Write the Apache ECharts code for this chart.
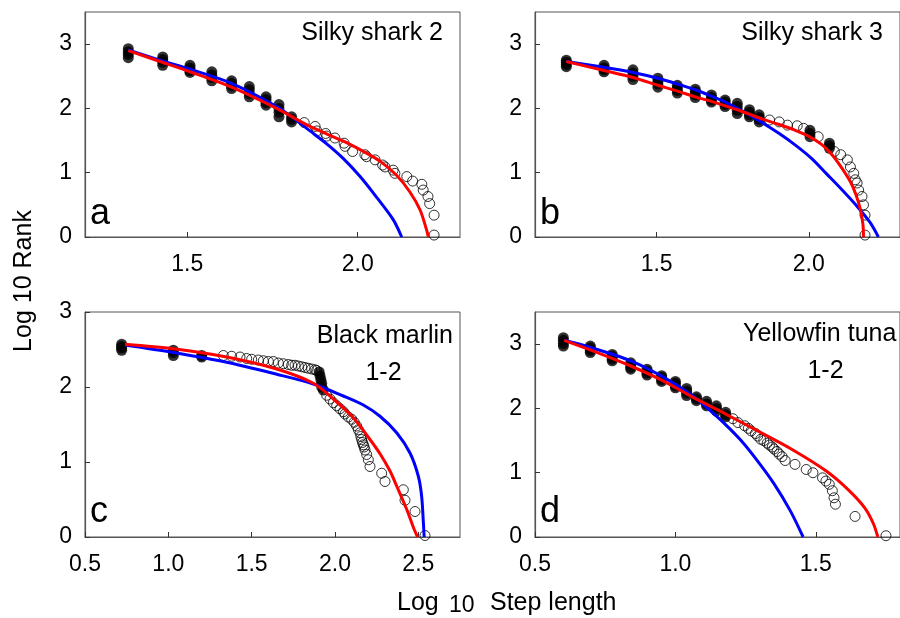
<!DOCTYPE html>
<html>
<head>
<meta charset="utf-8">
<script src="https://cdn.jsdelivr.net/npm/echarts@6/dist/echarts.min.js"></script>
<style>html,body{margin:0;padding:0;background:#fff;}#c{width:900px;height:618px;}</style>
</head>
<body>
<div id="c"></div>
<script>
// ---------- DATA ----------
// Panel a: Silky shark 2
var aDense = [
  [1.327,2.93],[1.327,2.88],[1.327,2.84],[1.327,2.79],
  [1.428,2.80],[1.428,2.76],[1.428,2.72],[1.428,2.67],
  [1.508,2.67],[1.508,2.63],[1.508,2.59],[1.508,2.56],
  [1.572,2.57],[1.572,2.52],[1.572,2.48],[1.572,2.43],
  [1.630,2.43],[1.630,2.39],[1.630,2.35],[1.630,2.31],
  [1.682,2.34],[1.682,2.29],[1.682,2.23],[1.682,2.18],
  [1.731,2.18],[1.731,2.14],[1.731,2.09],[1.731,2.05],
  [1.769,2.06],[1.769,2.00],[1.769,1.94],[1.769,1.87],
  [1.806,1.87],[1.806,1.83],[1.806,1.79]
];
var aOpen = [
  [1.843,1.78],[1.875,1.72],[1.880,1.65],[1.906,1.61],[1.909,1.57],[1.933,1.54],
  [1.960,1.46],[1.963,1.41],[1.985,1.33],[2.021,1.28],[2.026,1.25],[2.051,1.20],
  [2.073,1.12],[2.080,1.09],[2.104,1.04],[2.109,0.99],[2.144,0.94],[2.161,0.87],
  [2.188,0.82],[2.192,0.73],[2.206,0.63],[2.211,0.52],[2.224,0.34],[2.224,0.03]
];
var aBlue = [
  [1.327,2.91],[1.420,2.75],[1.508,2.61],[1.630,2.39],[1.762,2.03],[1.811,1.85],
  [1.860,1.65],[1.909,1.45],[1.958,1.22],[2.007,0.94],[2.055,0.62],[2.104,0.27],[2.129,0]
];
var aRed = [
  [1.327,2.90],[1.420,2.73],[1.508,2.57],[1.630,2.33],[1.762,2.00],[1.860,1.72],
  [1.958,1.49],[2.020,1.32],[2.065,1.18],[2.114,0.96],[2.153,0.70],[2.183,0.42],[2.202,0.11],[2.207,0]
];
// Panel b: Silky shark 3
var bDense = [
  [1.203,2.75],[1.203,2.72],[1.203,2.68],[1.203,2.65],
  [1.327,2.67],[1.327,2.63],[1.327,2.60],[1.327,2.57],
  [1.422,2.60],[1.422,2.55],[1.422,2.50],[1.422,2.45],
  [1.504,2.47],[1.504,2.42],[1.504,2.38],[1.504,2.33],
  [1.568,2.36],[1.568,2.32],[1.568,2.28],[1.568,2.24],
  [1.627,2.30],[1.627,2.26],[1.627,2.21],[1.627,2.17],
  [1.680,2.21],[1.680,2.17],[1.680,2.13],[1.680,2.10],
  [1.725,2.13],[1.725,2.10],[1.725,2.06],[1.725,2.03],
  [1.765,2.08],[1.765,2.03],[1.765,1.97],[1.765,1.92],
  [1.805,1.98],[1.805,1.94],[1.805,1.90],[1.805,1.87],
  [1.837,1.90],[1.837,1.86],[1.837,1.83],[1.837,1.79],
  [2.004,1.66],[2.004,1.61],[2.004,1.56],
  [2.068,1.46],[2.068,1.42],[2.068,1.38]
];
var bOpen = [
  [1.871,1.82],[1.903,1.79],[1.930,1.74],[1.962,1.73],[1.983,1.69],[2.031,1.56],
  [2.084,1.33],[2.105,1.28],[2.127,1.20],[2.137,1.09],[2.148,0.99],[2.153,0.89],
  [2.159,0.84],[2.164,0.73],[2.175,0.63],[2.180,0.50],[2.185,0.34],[2.185,0.03]
];
var bBlue = [
  [1.203,2.73],[1.327,2.64],[1.422,2.56],[1.504,2.47],[1.568,2.38],[1.627,2.29],
  [1.680,2.19],[1.725,2.10],[1.765,2.00],[1.805,1.90],[1.850,1.77],[1.903,1.61],
  [1.956,1.43],[2.010,1.22],[2.057,0.99],[2.110,0.73],[2.162,0.46],[2.201,0.23],[2.229,0]
];
var bRed = [
  [1.203,2.73],[1.327,2.59],[1.422,2.48],[1.504,2.36],[1.568,2.27],[1.627,2.18],
  [1.680,2.11],[1.725,2.04],[1.765,1.98],[1.805,1.91],[1.850,1.83],[1.903,1.75],
  [1.956,1.66],[1.999,1.57],[2.042,1.44],[2.073,1.30],[2.105,1.10],[2.137,0.86],
  [2.155,0.66],[2.169,0.44],[2.178,0.20],[2.180,0]
];
// Panel c: Black marlin 1-2
var cDense = [
  [0.720,2.57],[0.720,2.54],[0.720,2.52],[0.720,2.49],
  [1.030,2.49],[1.030,2.46],[1.030,2.42],
  [1.200,2.42],[1.200,2.40],
  [1.905,2.20],[1.910,2.15],[1.915,2.10],[1.920,2.05],[1.920,2.00],[1.930,1.96]
];
var cOpen = [
  [1.330,2.42],[1.380,2.41],[1.430,2.40],[1.470,2.38],[1.500,2.37],[1.540,2.36],
  [1.570,2.35],[1.600,2.34],[1.630,2.34],[1.660,2.32],[1.690,2.31],[1.720,2.30],
  [1.740,2.29],[1.760,2.29],[1.780,2.28],[1.800,2.27],[1.820,2.26],[1.840,2.25],
  [1.860,2.24],[1.880,2.23],[1.890,2.22],
  [1.950,1.89],[1.970,1.84],[1.990,1.79],[2.010,1.75],[2.030,1.71],[2.050,1.67],
  [2.060,1.64],[2.080,1.60],[2.100,1.57],[2.115,1.53],[2.130,1.48],[2.140,1.43],
  [2.150,1.39],[2.155,1.34],[2.160,1.30],[2.165,1.26],[2.170,1.23],[2.175,1.20],
  [2.180,1.16],[2.190,1.10],[2.200,1.03],[2.210,0.94],
  [2.280,0.85],[2.300,0.74],[2.410,0.63],[2.420,0.49],[2.480,0.34],[2.540,0.02]
];
var cBlue = [
  [0.740,2.56],[1.030,2.46],[1.350,2.33],[1.650,2.17],[1.870,2.04],[2.050,1.88],
  [2.170,1.76],[2.270,1.61],[2.370,1.39],[2.450,1.12],[2.500,0.81],[2.520,0.54],[2.530,0.20],[2.535,0]
];
var cRed = [
  [0.740,2.57],[1.030,2.51],[1.350,2.40],[1.650,2.24],[1.870,2.05],[1.990,1.84],
  [2.110,1.59],[2.200,1.33],[2.270,1.11],[2.330,0.88],[2.370,0.68],[2.430,0.37],[2.470,0.13],[2.495,0]
];
// Panel d: Yellowfin tuna 1-2
var dDense = [
  [0.601,3.10],[0.601,3.06],[0.601,3.01],[0.601,2.97],
  [0.697,2.97],[0.697,2.94],[0.697,2.90],[0.697,2.87],
  [0.775,2.84],[0.775,2.81],[0.775,2.77],[0.775,2.74],
  [0.841,2.71],[0.841,2.68],[0.841,2.64],[0.841,2.61],
  [0.899,2.61],[0.899,2.58],[0.899,2.55],[0.899,2.52],
  [0.951,2.51],[0.951,2.48],[0.951,2.45],[0.951,2.42],
  [1.000,2.42],[1.000,2.39],[1.000,2.35],[1.000,2.32],
  [1.040,2.31],[1.040,2.27],[1.040,2.24],[1.040,2.20],
  [1.075,2.18],[1.075,2.15],[1.075,2.12],
  [1.111,2.11],[1.111,2.07],[1.111,2.04],
  [1.146,2.04],[1.146,2.00],[1.146,1.96],
  [1.179,1.94],[1.179,1.90],[1.179,1.87]
];
var dOpen = [
  [1.205,1.84],[1.223,1.78],[1.247,1.73],[1.260,1.69],[1.270,1.65],[1.285,1.61],
  [1.293,1.57],[1.304,1.52],[1.315,1.50],[1.327,1.46],[1.335,1.43],[1.345,1.40],
  [1.351,1.37],[1.362,1.33],[1.370,1.29],[1.380,1.25],[1.391,1.19],[1.426,1.13],
  [1.466,1.05],[1.490,1.00],[1.524,0.92],[1.536,0.87],[1.548,0.82],[1.559,0.72],
  [1.565,0.61],[1.570,0.51],[1.640,0.32],[1.750,0.02]
];
var dBlue = [
  [0.604,3.06],[0.697,2.95],[0.841,2.74],[0.956,2.49],[1.060,2.20],[1.118,1.99],
  [1.176,1.76],[1.234,1.50],[1.293,1.18],[1.351,0.83],[1.409,0.41],[1.455,0]
];
var dRed = [
  [0.604,3.06],[0.697,2.91],[0.841,2.66],[0.956,2.43],[1.060,2.18],[1.176,1.92],
  [1.293,1.65],[1.420,1.35],[1.536,1.03],[1.617,0.73],[1.675,0.45],[1.705,0.21],[1.721,0]
];
// Axis settings
var xRanges = [[1.2,2.3],[1.1,2.3],[0.5,2.75],[0.5,1.8]];
var xTickValues = [[1.5,2.0],[1.5,2.0],[0.5,1.0,1.5,2.0,2.5],[0.5,1.0,1.5]];
var yMaxes = [3.5,3.5,3,3.5];
var yTickValues = [0,1,2,3];
var panelLetters = ['a','b','c','d'];
var panelTitles = ['Silky shark 2','Silky shark 3','Black marlin','Yellowfin tuna'];
var panelSubtitles = ['','','1-2','1-2'];

// ---------- CHART ----------
var FONT = '"Liberation Sans", Arial, sans-serif';
var chart = echarts.init(document.getElementById('c'), null, {renderer:'canvas'});
var grids = [
  {left:85, top:12, width:375, height:225},
  {left:535, top:12, width:375, height:225},
  {left:85, top:312, width:375, height:225},
  {left:535, top:312, width:375, height:225}
];
grids.forEach(function(g){ g.show = true; g.borderColor = '#555'; g.borderWidth = 1; g.backgroundColor='transparent'; g.containLabel=false; });

var xAxes = [], yAxes = [], series = [];
var dense = [aDense,bDense,cDense,dDense];
var open = [aOpen,bOpen,cOpen,dOpen];
var blue = [aBlue,bBlue,cBlue,dBlue];
var red = [aRed,bRed,cRed,dRed];
for (var i=0;i<4;i++){
  xAxes.push({
    type:'value', gridIndex:i, min:xRanges[i][0], max:xRanges[i][1],
    axisLine:{show:true, onZero:false, lineStyle:{color:'#555', width:1.2}},
    axisTick:{show:true, inside:true, length:5, customValues:xTickValues[i], lineStyle:{color:'#333'}},
    axisLabel:{show:true, customValues:xTickValues[i], margin:16, color:'#000', fontSize:23, fontFamily:FONT,
      formatter:function(v){return v.toFixed(1);}},
    splitLine:{show:false}
  });
  yAxes.push({
    type:'value', gridIndex:i, min:0, max:yMaxes[i],
    axisLine:{show:true, onZero:false, lineStyle:{color:'#555', width:1.2}},
    axisTick:{show:true, inside:true, length:5, customValues:yTickValues, lineStyle:{color:'#333'}},
    axisLabel:{show:true, customValues:yTickValues, margin:13, color:'#000', fontSize:23, fontFamily:FONT,
      formatter:function(v){return String(Math.round(v));}},
    splitLine:{show:false}
  });
  series.push({
    type:'scatter', xAxisIndex:i, yAxisIndex:i, data:dense[i], symbol:'circle', symbolSize:11,
    itemStyle:{color:'#000'}, silent:true, z:2
  });
  series.push({
    type:'scatter', xAxisIndex:i, yAxisIndex:i, data:open[i], symbol:'circle', symbolSize:10,
    itemStyle:{color:'rgba(255,255,255,0)', borderColor:'#000', borderWidth:1}, silent:true, z:2
  });
  series.push({
    type:'line', xAxisIndex:i, yAxisIndex:i, data:blue[i], showSymbol:false, smooth:0.3,
    lineStyle:{color:'#0000ff', width:3}, silent:true, z:3
  });
  series.push({
    type:'line', xAxisIndex:i, yAxisIndex:i, data:red[i], showSymbol:false, smooth:0.3,
    lineStyle:{color:'#ff0000', width:3}, silent:true, z:4
  });
}

function txt(s, x, y, size, align, extra){
  var e = {type:'text', x:x, y:y, silent:true, z:100,
    style:{text:s, x:0, y:0, fill:'#000', fontSize:size, fontFamily:FONT,
      align:align, textAlign:align, verticalAlign:'middle', textVerticalAlign:'middle'}};
  if (extra) for (var k in extra) e[k]=extra[k];
  return e;
}
var letterPos = [[90,214.5],[540,214.5],[90,512.5],[540,512.5]];
var titlePos = [[443,33,'right'],[883,33,'right'],[453,336.3,'right'],[743,334.3,'left']];
var subPos = [null,null,[383.5,373],[825.5,371.3]];
var graphics = [];
for (var j=0;j<4;j++){
  graphics.push(txt(panelLetters[j], letterPos[j][0], letterPos[j][1], 36, 'left'));
  graphics.push(txt(panelTitles[j], titlePos[j][0], titlePos[j][1], 25, titlePos[j][2]));
  if (panelSubtitles[j]) graphics.push(txt(panelSubtitles[j], subPos[j][0], subPos[j][1], 25, 'center'));
}
// axis titles
graphics.push(txt('Log', 397, 603, 25, 'left'));
graphics.push(txt('10', 449, 606, 23, 'left'));
graphics.push(txt('Step length', 490, 603, 25, 'left'));
graphics.push(txt('Log 10 Rank', 24, 281, 25, 'center', {rotation:Math.PI/2}));

chart.setOption({
  animation:false,
  backgroundColor:'#fff',
  grid:grids, xAxis:xAxes, yAxis:yAxes, series:series, graphic:graphics
});
</script>
</body>
</html>
